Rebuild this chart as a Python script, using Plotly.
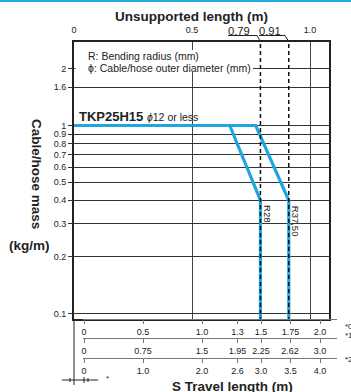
import plotly.graph_objects as go
import math

# ---------------- data ----------------
unsup_ticks = [0, 0.5, 1.0]
unsup_ticklabels = ["0", "0.5", "1.0"]
unsup_marks = [0.79, 0.91]          # dashed limits (unsupported length, m)
unsup_mark_labels = ["0.79", "0.91"]

mass_ticks = [0.1, 0.2, 0.3, 0.4, 0.5, 0.6, 0.7, 0.8, 0.9, 1, 1.6, 2]
mass_ticklabels = ["0.1", "0.2", "0.3", "0.4", "0.5", "0.6", "0.7", "0.8", "0.9", "1", "1.6", "2"]

# curves: unsupported length (m) vs cable/hose mass (kg/m)
r28_x = [0.0, 0.66, 0.79, 0.79]
r28_y = [1.0, 1.0, 0.4, 0.05]
r37_x = [0.0, 0.77, 0.91, 0.91]
r37_y = [1.0, 1.0, 0.4, 0.05]
curve_names = ["R28", "R37,50"]

# travel length rows (S travel length, m)
travel_row1 = [0, 0.5, 1.0, 1.3, 1.5, 1.75, 2.0]
travel_row1_lbl = ["0", "0.5", "1.0", "1.3", "1.5", "1.75", "2.0"]
travel_row2 = [0, 0.75, 1.5, 1.95, 2.25, 2.62, 3.0]
travel_row2_lbl = ["0", "0.75", "1.5", "1.95", "2.25", "2.62", "3.0"]
travel_row3 = [0, 1.0, 2.0, 2.6, 3.0, 3.5, 4.0]
travel_row3_lbl = ["0", "1.0", "2.0", "2.6", "3.0", "3.5", "4.0"]

# ---------------- layout geometry ----------------
W, H = 351, 392
ML, MR, MT, MB = 74, 14, 42, 12
PW, PH = W - ML - MR, H - MT - MB


def px_x(px):
    return (px - ML) / PW


def px_y(py):
    return (H - MB - py) / PH


FONT = "Liberation Sans, Arial, Helvetica, sans-serif"
BLUE = "#1fa6de"
DARK = "#222222"

main_bottom = px_y(318.7)
main_right = px_x(329)

fig = go.Figure()

for xs, ys in [(r28_x, r28_y), (r37_x, r37_y)]:
    fig.add_trace(go.Scatter(x=xs, y=ys, mode="lines",
                             line=dict(color=BLUE, width=3.2),
                             hoverinfo="skip", showlegend=False))

for xv in unsup_marks:
    fig.add_trace(go.Scatter(x=[xv, xv], y=[0.05, 5], mode="lines",
                             line=dict(color="#111111", width=1.5, dash="4px,3px"),
                             hoverinfo="skip", showlegend=False))

# dummy traces so the travel-length axes get drawn
for ax in ["x2", "x3", "x4"]:
    fig.add_trace(go.Scatter(x=[0], y=[0.5], xaxis=ax, yaxis="y2", mode="markers",
                             marker=dict(opacity=0), hoverinfo="skip", showlegend=False))

row_common = dict(anchor="free", showline=True, linecolor="#777777", linewidth=1,
                  ticks="outside", ticklen=4, tickcolor="#777777", tickwidth=1,
                  showgrid=False, zeroline=False,
                  tickfont=dict(family=FONT, size=9, color=DARK),
                  domain=[px_x(83), 1])

# S1 -> pixel: 84 + 118*S1
s1_lo, s1_hi = (83 - 84) / 118, (337 - 84) / 118

fig.update_layout(
    width=W, height=H,
    margin=dict(l=ML, r=MR, t=MT, b=MB),
    paper_bgcolor="white", plot_bgcolor="rgba(0,0,0,0)",
    showlegend=False,
    xaxis=dict(domain=[0, main_right], range=[0, 1.0805], side="top",
               tickvals=unsup_ticks, ticktext=unsup_ticklabels,
               ticks="outside", ticklen=3, tickcolor="rgba(0,0,0,0)",
               showgrid=True, gridcolor="#444444", gridwidth=1,
               showline=True, linecolor=DARK, linewidth=2, mirror=True,
               zeroline=False, anchor="y",
               tickfont=dict(family=FONT, size=9, color=DARK)),
    yaxis=dict(type="log", domain=[main_bottom, 1], range=[-1.0277, 0.4441],
               tickvals=mass_ticks, ticktext=mass_ticklabels,
               ticks="outside", ticklen=4, tickcolor="#333333",
               showgrid=True, gridcolor="#333333", gridwidth=1,
               showline=True, linecolor=DARK, linewidth=2, mirror=True,
               zeroline=False, anchor="x",
               tickfont=dict(family=FONT, size=9, color=DARK)),
    yaxis2=dict(domain=[0, 0.15], range=[0, 1], visible=False),
    xaxis2=dict(position=main_bottom, range=[s1_lo, s1_hi],
                tickvals=travel_row1, ticktext=travel_row1_lbl, **row_common),
    xaxis3=dict(position=px_y(337.7), range=[s1_lo * 1.5, s1_hi * 1.5],
                tickvals=travel_row2, ticktext=travel_row2_lbl, **row_common),
    xaxis4=dict(position=px_y(358.3), range=[s1_lo * 2, s1_hi * 2],
                tickvals=travel_row3, ticktext=travel_row3_lbl, **row_common),
)

shapes = []
# top cyan rule
shapes.append(dict(type="line", xref="paper", yref="paper",
                   x0=px_x(0), x1=px_x(351), y0=px_y(1), y1=px_y(1),
                   line=dict(color="#2aa8df", width=2)))
# white box behind legend text
shapes.append(dict(type="rect", xref="paper", yref="paper", layer="above",
                   x0=px_x(75.5), x1=px_x(253), y0=px_y(72), y1=px_y(50),
                   fillcolor="white", line=dict(width=0)))
# leaders for 0.79 / 0.91
for xv, xs, xk in [(0.79, 0.6525, 0.7754), (0.91, 0.7839, 0.894)]:
    shapes.append(dict(type="path", xref="x", yref="paper",
                       path=f"M {xs},{px_y(35.5)} L {xk},{px_y(35.5)} L {xv},{px_y(41.5)}",
                       line=dict(color=DARK, width=1)))
# left vertical rule below the plot
shapes.append(dict(type="line", xref="paper", yref="paper",
                   x0=0, x1=0, y0=main_bottom, y1=px_y(385),
                   line=dict(color=DARK, width=1)))
# small key axis at bottom-left
shapes.append(dict(type="line", xref="paper", yref="paper",
                   x0=px_x(62), x1=px_x(98), y0=px_y(380), y1=px_y(380),
                   line=dict(color=DARK, width=1)))
for tx, half in [(70, 2), (84, 3), (88, 2)]:
    shapes.append(dict(type="line", xref="paper", yref="paper",
                       x0=px_x(tx), x1=px_x(tx), y0=px_y(380 - half), y1=px_y(380 + half),
                       line=dict(color=DARK, width=1)))
fig.update_layout(shapes=shapes)


def A(text, x, y, xref="paper", yref="paper", xanchor="center", yanchor="middle", **kw):
    return dict(text=text, x=x, y=y, xref=xref, yref=yref, xanchor=xanchor,
                yanchor=yanchor, showarrow=False, **kw)


ann = []
ann.append(A("<b>Unsupported length (m)</b>", px_x(191), px_y(16),
             font=dict(family=FONT, size=13.5, color=DARK)))
ann.append(A("<b>S Travel length (m)</b>", px_x(232), px_y(386),
             font=dict(family=FONT, size=13.5, color=DARK)))
ann.append(A("<b>Cable/hose mass</b>", px_x(37), px_y(174), textangle=90,
             font=dict(family=FONT, size=13.5, color=DARK)))
ann.append(A("<b>(kg/m)</b>", px_x(29), px_y(245),
             font=dict(family=FONT, size=13.5, color=DARK)))
ann.append(A("R: Bending radius (mm)", px_x(86), px_y(55.5), xanchor="left",
             font=dict(family=FONT, size=10.5, color=DARK)))
ann.append(A("ϕ: Cable/hose outer diameter (mm)", px_x(86), px_y(67.5), xanchor="left",
             font=dict(family=FONT, size=10.5, color=DARK)))
ann.append(A("<b>TKP25H15</b> <span style='font-size:10.5px'><i>ϕ</i>12 or less</span>",
             px_x(77), px_y(116.5), xanchor="left",
             font=dict(family=FONT, size=13, color=DARK)))
for lbl, cx in [(unsup_mark_labels[0], 0.6991), (unsup_mark_labels[1], 0.8305)]:
    ann.append(A(lbl, cx, px_y(30.5), xref="x",
                 font=dict(family=FONT, size=11.2, color=DARK)))
for xv, name in zip(unsup_marks, curve_names):
    ann.append(A(name, xv + 0.027, math.log10(0.385), xref="x", yref="y",
                 yanchor="top", textangle=90,
                 font=dict(family=FONT, size=9.5, color=DARK)))
for lbl, py in [("*0", 326), ("*1", 335), ("*2", 359)]:
    ann.append(A(lbl, px_x(343), px_y(py), xanchor="left",
                 font=dict(family=FONT, size=8, color=DARK)))
ann.append(A("*", px_x(107), px_y(378), font=dict(family=FONT, size=8, color=DARK)))
fig.update_layout(annotations=ann)

fig.write_html("out.html", config={"displayModeBar": False},
               post_script="document.body.style.margin='0px';")
